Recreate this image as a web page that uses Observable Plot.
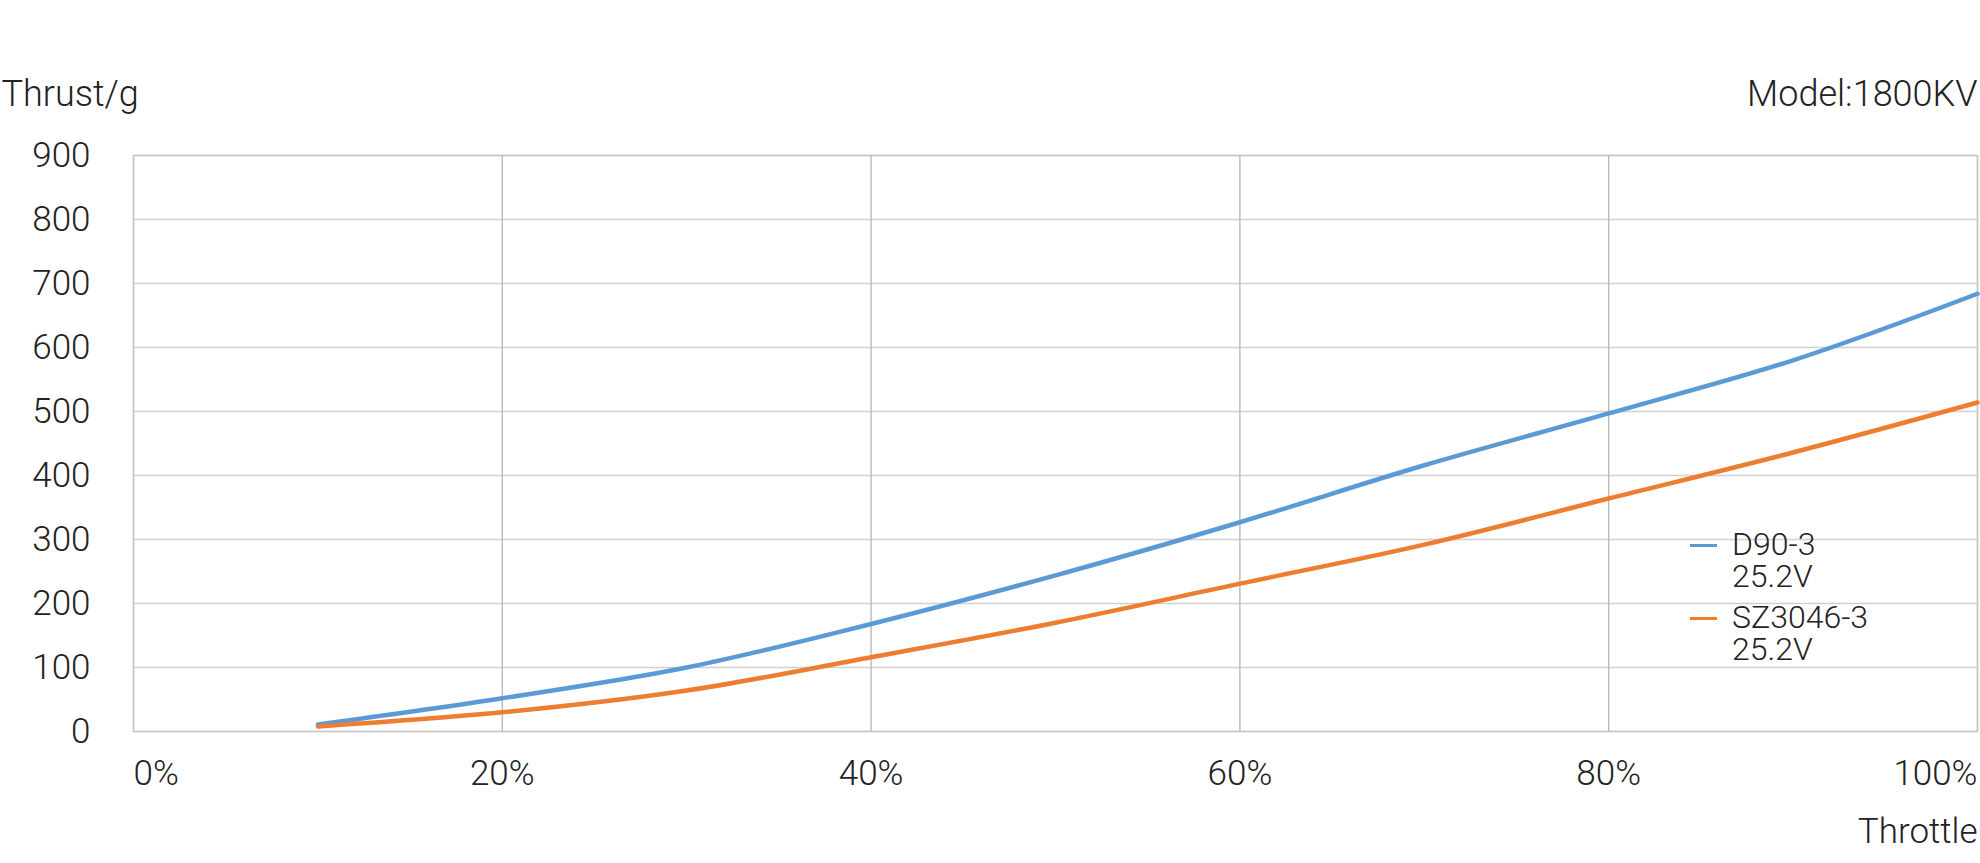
<!DOCTYPE html>
<html>
<head>
<meta charset="utf-8">
<script src="https://cdn.jsdelivr.net/npm/d3@7"></script>
<script src="https://cdn.jsdelivr.net/npm/@observablehq/plot@0.6"></script>
<style>
  html, body { margin: 0; padding: 0; background: #fff; }
  #wrap { position: relative; width: 1980px; height: 863px; font-family: Roboto, "Liberation Sans", Arial, sans-serif; font-weight: 300; color: #222; }
  #legend { position: absolute; left: 1690px; top: 528px; }
  .entry { display: flex; align-items: flex-start; margin-bottom: 9px; }
  .sw { width: 27px; height: 3px; margin-top: 16px; margin-right: 15px; }
  .lbl { font-size: 32px; line-height: 32px; white-space: pre; }
</style>
</head>
<body>
<div id="wrap"><div id="chart"></div><div id="legend"></div></div>
<script>
// Throttle (fraction of full)
const throttle = [0.1, 0.2, 0.3, 0.4, 0.5, 0.6, 0.7, 0.8, 0.9, 1.0];
// Thrust in grams
const d90 = [11, 52, 100, 168, 244, 327, 416, 497, 580, 684];
const sz3046 = [8, 30, 64, 116, 170, 231, 292, 364, 436, 514];
const seriesNames = ["D90-3\n25.2V", "SZ3046-3\n25.2V"];
const seriesColors = ["#5B9BD5", "#ED7D31"];
const xTicks = [0, 0.2, 0.4, 0.6, 0.8, 1.0];
const yTicks = [0, 100, 200, 300, 400, 500, 600, 700, 800, 900];
const yTitle = "Thrust/g";
const xTitle = "Throttle";
const modelNote = "Model:1800KV";

const rows = [];
[d90, sz3046].forEach((vals, i) => {
  vals.forEach((v, j) => rows.push({throttle: throttle[j], thrust: v, series: seriesNames[i]}));
});

const pct = d3.format(".0%");
const font = "Roboto, Liberation Sans, Arial, sans-serif";

const chart = Plot.plot({
  width: 1980,
  height: 863,
  marginLeft: 133,
  marginRight: 3,
  marginTop: 155,
  marginBottom: 132,
  style: {fontFamily: font, fontWeight: 300, color: "#222", background: "#fff", overflow: "visible"},
  x: {domain: [0, 1], axis: null},
  y: {domain: [0, 900], axis: null},
  color: {domain: seriesNames, range: seriesColors},
  marks: [
    Plot.gridY(yTicks, {stroke: "#d0d0d0", strokeOpacity: 1, strokeWidth: 1.4}),
    Plot.gridX(xTicks, {stroke: "#bababa", strokeOpacity: 1, strokeWidth: 1.4}),
    Plot.frame({stroke: "#c6c6c6", strokeWidth: 1.4}),
    Plot.line(rows, {x: "throttle", y: "thrust", z: "series", stroke: "series", strokeWidth: 4.5, curve: "catmull-rom"}),
    Plot.text(yTicks, {x: 0, y: d => d, text: d => String(d), textAnchor: "end", dx: -43, fontSize: 35, fill: "#222"}),
    Plot.text(xTicks.filter(d => d === 0), {x: d => d, text: d => pct(d), frameAnchor: "bottom", textAnchor: "start", lineAnchor: "top", dy: 29, fontSize: 35, fill: "#222"}),
    Plot.text(xTicks.filter(d => d > 0 && d < 1), {x: d => d, text: d => pct(d), frameAnchor: "bottom", textAnchor: "middle", lineAnchor: "top", dy: 29, fontSize: 35, fill: "#222"}),
    Plot.text(xTicks.filter(d => d === 1), {x: d => d, text: d => pct(d), frameAnchor: "bottom", textAnchor: "end", lineAnchor: "top", dy: 29, fontSize: 35, fill: "#222"}),
    Plot.text([yTitle], {frameAnchor: "top-left", textAnchor: "start", lineAnchor: "bottom", dx: -132, dy: -50, fontSize: 36, fill: "#222"}),
    Plot.text([modelNote], {frameAnchor: "top-right", textAnchor: "end", lineAnchor: "bottom", dy: -50, fontSize: 36, fill: "#222"}),
    Plot.text([xTitle], {frameAnchor: "bottom-right", textAnchor: "end", lineAnchor: "bottom", dy: 111, fontSize: 35, fill: "#222"})
  ]
});
document.getElementById("chart").appendChild(chart);

const legend = document.getElementById("legend");
seriesNames.forEach((name, i) => {
  const e = document.createElement("div");
  e.className = "entry";
  const sw = document.createElement("div");
  sw.className = "sw";
  sw.style.background = seriesColors[i];
  const lb = document.createElement("div");
  lb.className = "lbl";
  lb.textContent = name;
  e.appendChild(sw);
  e.appendChild(lb);
  legend.appendChild(e);
});
</script>
</body>
</html>
